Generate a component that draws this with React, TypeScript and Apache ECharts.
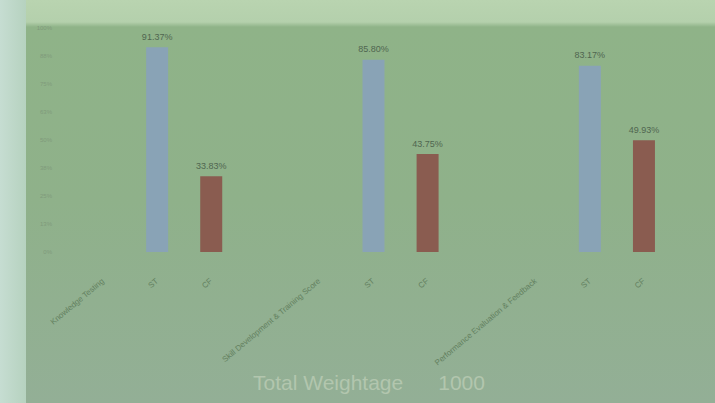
import React, { useEffect, useRef } from "react";
import * as echarts from "echarts";

const categories = [
  "Knowledge Testing",
  "ST",
  "CF",
  "",
  "Skill Development & Training Score",
  "ST",
  "CF",
  "",
  "Performance Evaluation & Feedback",
  "ST",
  "CF",
];
const stValues = [null, 91.37, null, null, null, 85.8, null, null, null, 83.17, null];
const cfValues = [null, null, 33.83, null, null, null, 43.75, null, null, null, 49.93];
const titleText = "Total Weightage      1000";

export default function App() {
  const ref = useRef<HTMLDivElement>(null);
  useEffect(() => {
    if (!ref.current) return;
    const chart = echarts.init(ref.current, null, { renderer: "svg" });
    const labelStyle = {
      show: true,
      position: "top" as const,
      distance: 6,
      fontSize: 9,
      color: "#4f6650",
      fontFamily: "Liberation Sans",
      formatter: (p: any) => (p.value == null ? "" : p.value.toFixed(2) + "%"),
    };
    chart.setOption({
      animation: false,
      backgroundColor: "transparent",
      title: {
        text: titleText,
        left: 248,
        top: 367,
        textStyle: {
          fontSize: 21,
          fontWeight: "normal",
          color: "#b2c6ae",
          fontFamily: "Liberation Sans",
        },
      },
      grid: { left: 76, right: 44, top: 28, bottom: 151 },
      xAxis: {
        type: "category",
        data: categories,
        axisLine: { show: false },
        axisTick: { show: false },
        axisLabel: {
          interval: 0,
          rotate: 40,
          margin: 28,
          fontSize: 8,
          color: "#63805f",
          fontFamily: "Liberation Sans",
        },
      },
      yAxis: {
        type: "value",
        min: 0,
        max: 100,
        interval: 12.5,
        splitLine: { show: false },
        axisLine: { show: false },
        axisTick: { show: false },
        axisLabel: {
          margin: 24,
          fontSize: 6,
          color: "#7f9a7b",
          fontFamily: "Liberation Sans",
          formatter: (v: number) => Math.round(v) + "%",
        },
      },
      series: [
        {
          type: "bar",
          name: "ST",
          data: stValues,
          barWidth: 22,
          barGap: "-100%",
          itemStyle: { color: "#89a3b6" },
          label: labelStyle,
        },
        {
          type: "bar",
          name: "CF",
          data: cfValues,
          barWidth: 22,
          itemStyle: { color: "#8a5c50" },
          label: labelStyle,
        },
      ],
    });
    return () => chart.dispose();
  }, []);
  return (
    <div
      style={{
        position: "fixed",
        left: 0,
        top: 0,
        width: 715,
        height: 403,
        background:
          "linear-gradient(180deg, #b9d4b0 0px, #b4d0ac 22px, #8fb388 27px, #8fb18a 200px, #93af96 403px)",
      }}
    >
      <div
        style={{
          position: "absolute",
          left: 0,
          top: 0,
          width: 26,
          height: 403,
          background: "linear-gradient(90deg, #c6ddd2 0px, #b6d2bf 26px)",
        }}
      />
      <div ref={ref} style={{ position: "absolute", left: 0, top: 0, width: 715, height: 403 }} />
    </div>
  );
}
